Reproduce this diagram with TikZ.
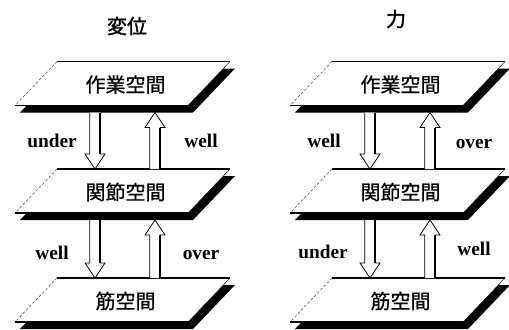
\documentclass[tikz,border=0pt]{standalone}
\usepackage{fontspec}
\setmainfont{Liberation Serif}
\newfontfamily\jp[FakeBold=0.6]{Noto Sans CJK JP}
\newfontfamily\jpb[FakeBold=1.5]{Noto Sans CJK JP}
\usetikzlibrary{calc}
\tikzset{
  planeshadow/.style={fill=black, draw=none},
  planeface/.style={fill=white, draw=none},
  planeedge/.style={line width=0.8pt},
  planeside/.style={line width=0.3pt},
  planedash/.style={line width=0.4pt, dash pattern=on 2pt off 1.5pt, black!70},
  planetext/.style={font=\jp\fontsize{15}{18}\selectfont, inner sep=0pt},
  lbl/.style={font=\bfseries\fontsize{14.5}{17}\selectfont, inner sep=0pt, anchor=base},
  ttl/.style={font=\jpb\fontsize{15}{18}\selectfont, inner sep=0pt},
  arrowline/.style={line width=0.6pt, fill=white, line join=miter},
  thickside/.style={line width=1.3pt},
}
% plane: name, cx, cy, text
\newcommand\myplane[4]{%
  \coordinate (#1) at (#2,#3);
  \fill[planeshadow] ($(#1)+(-60.5,-15)$) -- ($(#1)+(112.5,-15)$) -- ($(#1)+(70.5,29)$) -- ($(#1)+(-102.5,29)$) -- cycle;
  \fill[planeface] ($(#1)+(-65.5,-22)$) -- ($(#1)+(107.5,-22)$) -- ($(#1)+(65.5,22)$) -- ($(#1)+(-107.5,22)$) -- cycle;
  \draw[planeedge] ($(#1)+(-65.5,-22)$) -- ($(#1)+(107.5,-22)$);
  \draw[planeside] ($(#1)+(107.5,-22)$) -- ($(#1)+(65.5,22)$);
  \draw[planeedge] ($(#1)+(-107.5,22)$) -- ($(#1)+(65.5,22)$);
  \draw[planedash] ($(#1)+(-65.5,-22)$) -- ($(#1)+(-107.5,22)$);
  \node[planetext] (#1-t) at ($(#1)+(3,1)$) {#4};
}
% hollow arrow: start, tip, side of the heavy shaft line
\newcommand\hollowarrow[3]{%
  \coordinate (hh) at ($(#2)!11.25pt!(#1)$);
  \filldraw[arrowline] ($(#1)!4pt!90:(#2)$) -- ($(hh)!4pt!90:(#2)$) -- ($(hh)!7.5pt!90:(#2)$) -- (#2)
    -- ($(hh)!7.5pt!-90:(#2)$) -- ($(hh)!4pt!-90:(#2)$) -- ($(#1)!4pt!-90:(#2)$);
  \draw[thickside] ($(#1)!4pt!#3:(#2)$) -- ($(hh)!4pt!#3:(#2)$);
}
\begin{document}
\begin{tikzpicture}[x=0.75pt,y=-0.75pt]
\useasboundingbox (0,0) rectangle (509,329);

% titles
\node[ttl] (tL) at (127,26) {変位};
\node[ttl] (tR) at (396,19) {力};

% left column
\myplane{Lw}{122.5}{83.5}{作業空間}
\myplane{Lj}{122.5}{191}{関節空間}
\myplane{Lm}{122.5}{300}{筋空間}
% right column
\myplane{Rw}{397.5}{83.5}{作業空間}
\myplane{Rj}{397.5}{191}{関節空間}
\myplane{Rm}{397.5}{300}{筋空間}

% arrow end points
\foreach \a/\b in {Lw/Lj, Lj/Lm, Rw/Rj, Rj/Rm}{
  \coordinate (\a-dn-s) at ($(\a)+(-27.5,29)$);
  \coordinate (\a-dn-e) at ($(\b)+(-27.5,-22)$);
  \coordinate (\a-up-s) at ($(\b)+(32.5,-22)$);
  \coordinate (\a-up-e) at ($(\a)+(32.5,29)$);
}
\hollowarrow{Lw-dn-s}{Lw-dn-e}{90}
\hollowarrow{Lw-up-s}{Lw-up-e}{-90}
\hollowarrow{Lj-dn-s}{Lj-dn-e}{90}
\hollowarrow{Lj-up-s}{Lj-up-e}{-90}
\hollowarrow{Rw-dn-s}{Rw-dn-e}{90}
\hollowarrow{Rw-up-s}{Rw-up-e}{-90}
\hollowarrow{Rj-dn-s}{Rj-dn-e}{90}
\hollowarrow{Rj-up-s}{Rj-up-e}{-90}

% labels
\node[lbl] (l1) at (52,147) {under};
\node[lbl] (l2) at (201,147) {well};
\node[lbl] (l3) at (52,259) {well};
\node[lbl] (l4) at (201,259) {over};
\node[lbl] (r1) at (324,147) {well};
\node[lbl] (r2) at (474,148) {over};
\node[lbl] (r3) at (323,258) {under};
\node[lbl] (r4) at (474,255) {well};
\end{tikzpicture}
\end{document}
